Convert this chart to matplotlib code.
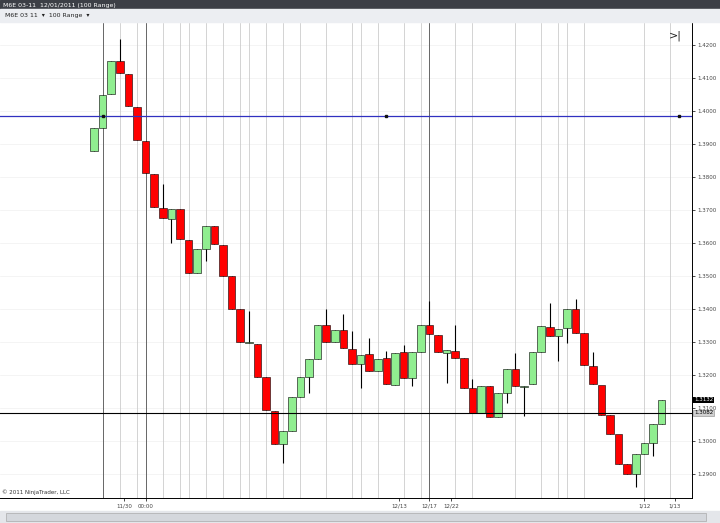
import matplotlib
matplotlib.use("Agg")
import matplotlib.pyplot as plt
from matplotlib.patches import Rectangle

# 100 tick range bars, prices
opens = [1.3878, 1.3948, 1.4051, 1.4151, 1.4112, 1.4012, 1.3909, 1.3809, 1.3706, 1.3672,
         1.3703, 1.3609, 1.3509, 1.3582, 1.3651, 1.3594, 1.3500, 1.3400, 1.3297, 1.3294,
         1.3194, 1.3091, 1.2991, 1.3030, 1.3133, 1.3194, 1.3248, 1.3351, 1.3300, 1.3336,
         1.3279, 1.3233, 1.3263, 1.3212, 1.3251, 1.3169, 1.3269, 1.3191, 1.3269, 1.3351,
         1.3321, 1.3266, 1.3272, 1.3251, 1.3160, 1.3085, 1.3166, 1.3073, 1.3145, 1.3218,
         1.3163, 1.3172, 1.3269, 1.3345, 1.3318, 1.3342, 1.3400, 1.3327, 1.3227, 1.3169,
         1.3079, 1.3021, 1.2930, 1.2900, 1.2960, 1.2994, 1.3051]
closes = [1.3948, 1.4048, 1.4151, 1.4115, 1.4015, 1.3912, 1.3812, 1.3709, 1.3676, 1.3703,
          1.3612, 1.3509, 1.3582, 1.3651, 1.3597, 1.3500, 1.3400, 1.3300, 1.3297, 1.3194,
          1.3094, 1.2991, 1.3030, 1.3133, 1.3194, 1.3248, 1.3351, 1.3300, 1.3336, 1.3282,
          1.3233, 1.3260, 1.3212, 1.3248, 1.3172, 1.3266, 1.3191, 1.3269, 1.3351, 1.3324,
          1.3269, 1.3275, 1.3251, 1.3160, 1.3085, 1.3166, 1.3073, 1.3145, 1.3218, 1.3166,
          1.3166, 1.3269, 1.3348, 1.3318, 1.3339, 1.3400, 1.3327, 1.3230, 1.3172, 1.3079,
          1.3021, 1.2930, 1.2900, 1.2960, 1.2994, 1.3051, 1.3124]
# extra wick extremes: bar index -> price
wick_high = {3: 1.4218, 8: 1.3779, 18: 1.3394, 27: 1.3400, 29: 1.3385, 30: 1.3333,
             32: 1.3312, 34: 1.3272, 36: 1.3291, 39: 1.3424, 42: 1.3351, 44: 1.3188,
             49: 1.3266, 53: 1.3418, 56: 1.3430, 58: 1.3269, 59: 1.3121, 61: 1.3006}
wick_low = {9: 1.3600, 13: 1.3545, 22: 1.2933, 25: 1.3145, 31: 1.3160, 37: 1.3166,
            41: 1.3176, 48: 1.3115, 50: 1.3076, 54: 1.3242, 55: 1.3297, 63: 1.2860,
            65: 1.2954}

session_dark = [1, 6, 39]
session_light = [3, 5, 8, 10, 11, 13, 15, 17, 18, 20, 22, 24, 27, 30, 31, 33, 36, 38,
                 42, 44, 49, 52, 54, 55, 57, 64, 67]
date_ticks = [3.5, 6, 35.5, 39, 41.5, 64, 67.5]
date_labels = ["11/30", "00:00", "12/13", "12/17", "12/22", "1/12", "1/13"]

blue_level = 1.3985
last_line = 1.3085
price_ticks = [1.29 + 0.01 * k for k in range(14)]

W, H = 720, 523
fig = plt.figure(figsize=(7.2, 5.23), dpi=100)
fig.patch.set_facecolor("white")

# window title + toolbar
fig.add_artist(Rectangle((0, 1 - 9 / H), 1, 9 / H, transform=fig.transFigure, color="#3c3f46"))
fig.text(3 / W, 1 - 5 / H, "M6E 03-11  12/01/2011 (100 Range)", color="white", fontsize=4.5, va="center")
fig.add_artist(Rectangle((0, 1 - 22 / H), 1, 13 / H, transform=fig.transFigure, color="#eceef2"))
fig.text(5 / W, 1 - 16 / H, "M6E 03 11  \u25be  100 Range  \u25be", color="#222", fontsize=4.5, va="center")
# bottom scrollbar
fig.add_artist(Rectangle((0, 0), 1, 12 / H, transform=fig.transFigure, color="#e4e6ea"))
fig.add_artist(Rectangle((6 / W, 2 / H), 700 / W, 8 / H, transform=fig.transFigure,
                         facecolor="#d4d7dc", edgecolor="#aaa", lw=0.5))

ax = fig.add_axes([0, 25 / H, 692 / W, (497 - 22) / H])
x0, dx = 94, 8.6
ax.set_xlim(-x0 / dx, (692 - x0) / dx)
ax.set_ylim(1.2827, 1.4266)

for p in price_ticks:
    ax.axhline(p, color="#f0f0f0", lw=0.5, zorder=0)
for s in session_light:
    ax.axvline(s, color="#cccccc", lw=0.6, zorder=0)
for s in session_dark:
    ax.axvline(s, color="#666", lw=0.7, zorder=0)

for i, (o, c) in enumerate(zip(opens, closes)):
    hi = wick_high.get(i, max(o, c))
    lo = wick_low.get(i, min(o, c))
    ax.vlines(i, lo, hi, color="black", lw=0.8, zorder=2)
    col = "#90ee90" if c >= o else "#ff0000"
    ax.add_patch(Rectangle((i - 0.45, min(o, c)), 0.9, max(abs(c - o), 0.0003),
                           facecolor=col, edgecolor="black", lw=0.4, zorder=3))

ax.axhline(blue_level, color="#3030c0", lw=0.9, zorder=4)
for xp in [1, 34, 68]:
    ax.plot(xp, blue_level, "s", color="#111", ms=1.8, zorder=5)
ax.axhline(last_line, color="black", lw=0.8, zorder=4)

ax.yaxis.tick_right()
ax.set_yticks(price_ticks)
ax.set_yticklabels(["%.4f" % p for p in price_ticks], fontsize=4, color="#444")
ax.set_xticks(date_ticks)
ax.set_xticklabels(date_labels, fontsize=4, color="#444")
ax.tick_params(length=2, width=0.5, pad=2)
for sp in ["top", "left"]:
    ax.spines[sp].set_visible(False)
ax.spines["right"].set_linewidth(0.7)
ax.spines["bottom"].set_linewidth(0.7)

ax.text(1.003, closes[-1], "1.3132", transform=ax.get_yaxis_transform(), fontsize=4,
        color="white", va="center", bbox=dict(facecolor="black", pad=0.6, lw=0))
ax.text(1.003, last_line, "1.3082", transform=ax.get_yaxis_transform(), fontsize=4,
        color="black", va="center", bbox=dict(facecolor="#d0d0d0", edgecolor="#888", pad=0.6, lw=0.4))
ax.text(2 / 692, 0.008, "\u00a9 2011 NinjaTrader, LLC", transform=ax.transAxes, fontsize=4, color="#333")
ax.text(0.985, 0.985, ">|", transform=ax.transAxes, fontsize=8, ha="right", va="top", color="#222")

fig.savefig("out.png", dpi=100)
